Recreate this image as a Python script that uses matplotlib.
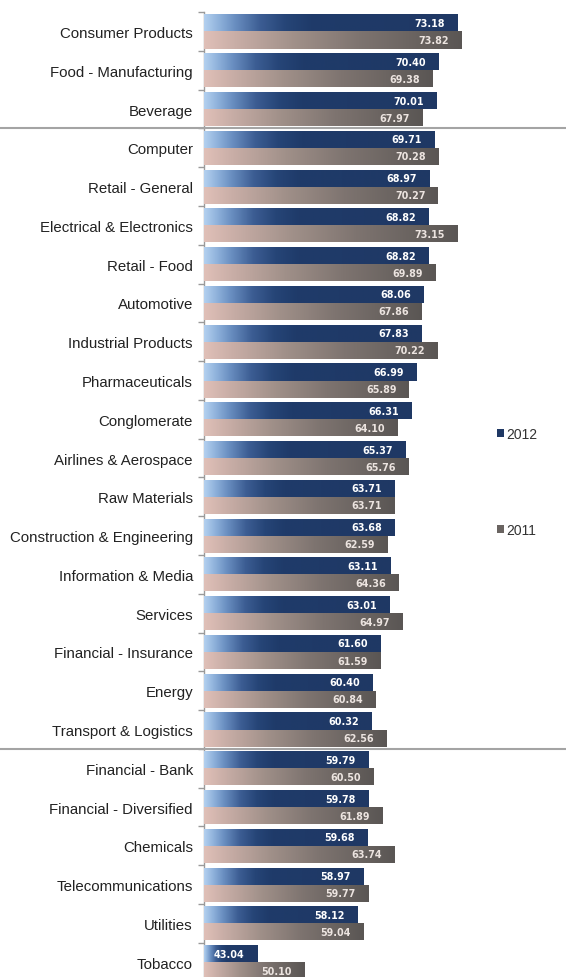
import matplotlib
matplotlib.use("Agg")
import numpy as np
import matplotlib.pyplot as plt
from matplotlib.colors import LinearSegmentedColormap
from matplotlib.transforms import blended_transform_factory
from matplotlib.lines import Line2D

categories = [
    "Consumer Products", "Food - Manufacturing", "Beverage", "Computer",
    "Retail - General", "Electrical & Electronics", "Retail - Food", "Automotive",
    "Industrial Products", "Pharmaceuticals", "Conglomerate", "Airlines & Aerospace",
    "Raw Materials", "Construction & Engineering", "Information & Media", "Services",
    "Financial - Insurance", "Energy", "Transport & Logistics", "Financial - Bank",
    "Financial - Diversified", "Chemicals", "Telecommunications", "Utilities", "Tobacco",
]
values_2012 = [73.18, 70.40, 70.01, 69.71, 68.97, 68.82, 68.82, 68.06, 67.83, 66.99,
               66.31, 65.37, 63.71, 63.68, 63.11, 63.01, 61.60, 60.40, 60.32, 59.79,
               59.78, 59.68, 58.97, 58.12, 43.04]
values_2011 = [73.82, 69.38, 67.97, 70.28, 70.27, 73.15, 69.89, 67.86, 70.22, 65.89,
               64.10, 65.76, 63.71, 62.59, 64.36, 64.97, 61.59, 60.84, 62.56, 60.50,
               61.89, 63.74, 59.77, 59.04, 50.10]
series_labels = ["2012", "2011"]
group_breaks = [2.5, 18.5]  # boundaries between the three industry groups

W, H = 566, 978
fig = plt.figure(figsize=(W / 100, H / 100), dpi=100)
fig.patch.set_facecolor("white")

row_px = 38.78
top_px = 13.1
n = len(categories)
ax_left = 204 / W
ax_w = (W - 204) / W
ax_h = n * row_px / H
ax_bottom = 1 - (top_px + n * row_px) / H
ax = fig.add_axes([ax_left, ax_bottom, ax_w, ax_h])

x0 = 35.0
x1 = x0 + (W - 204) / 6.634

cmap_2012 = LinearSegmentedColormap.from_list(
    "blue_fade",
    [(0.0, "#b3d0ef"), (0.06, "#8db0da"), (0.12, "#6a8fc1"), (0.22, "#3c5d93"),
     (0.32, "#264577"), (0.42, "#1f3b6a"), (1.0, "#1f3864")])
cmap_2011 = LinearSegmentedColormap.from_list(
    "taupe_fade",
    [(0.0, "#e0c0b8"), (0.12, "#c9aea7"), (0.35, "#a09089"), (0.6, "#7e7470"),
     (0.85, "#67615e"), (1.0, "#5a5654")])

y = np.arange(n)
bh = 0.44
bars_2012 = ax.barh(y - bh / 2, [v - x0 for v in values_2012], left=x0, height=bh,
                    color="#1f3864", label=series_labels[0], zorder=2)
bars_2011 = ax.barh(y + bh / 2, [v - x0 for v in values_2011], left=x0, height=bh,
                    color="#6a6461", label=series_labels[1], zorder=2)

grad = np.linspace(0, 1, 256).reshape(1, -1)
for bars, cmap in ((bars_2012, cmap_2012), (bars_2011, cmap_2011)):
    for patch in bars:
        bx, by = patch.get_x(), patch.get_y()
        bw, bhh = patch.get_width(), patch.get_height()
        im = ax.imshow(grad, cmap=cmap, aspect="auto",
                       extent=(bx, bx + bw, by + bhh, by), zorder=3,
                       interpolation="bilinear")
        im.set_clip_path(patch)

# value labels at the inner end of each bar
for bars, vals, col in ((bars_2012, values_2012, "white"),
                        (bars_2011, values_2011, "#ece4e0")):
    for patch, v in zip(bars, vals):
        ax.annotate(f"{v:.2f}", xy=(v, patch.get_y() + patch.get_height() / 2),
                    xytext=(-9, 0), textcoords="offset points",
                    ha="right", va="center", fontsize=6.9, fontweight="bold",
                    color=col, zorder=5, family="DejaVu Sans")

ax.set_xlim(x0, x1)
ax.set_ylim(n - 0.5, -0.5)

ax.set_yticks(y)
ax.set_yticklabels(categories, family="Liberation Sans",
                   fontsize=10.8, color="#222222")
ax.set_yticks(np.arange(n + 1) - 0.5, minor=True)
ax.tick_params(axis="y", which="major", length=0, pad=8)
ax.tick_params(axis="y", which="minor", length=4, color="#9a9a9a", width=1)
ax.set_xticks([])
for side in ("top", "right", "bottom"):
    ax.spines[side].set_visible(False)
ax.spines["left"].set_color("#9a9a9a")
ax.spines["left"].set_linewidth(1.0)

# group separators spanning the full width of the figure
tr = blended_transform_factory(fig.transFigure, ax.transData)
for yb in group_breaks:
    ax.add_line(Line2D([0, 1], [yb, yb], transform=tr, color="#a4a4a4",
                       lw=1.5, clip_on=False, zorder=6))

fig.legend(handles=[bars_2012, bars_2011], labels=series_labels,
           loc="center left", bbox_to_anchor=(0.856, 0.5066),
           frameon=False, handlelength=0.5, handleheight=0.5,
           handletextpad=0.2, labelspacing=5.9, labelcolor="#333333",
           prop={"family": "Liberation Sans", "size": 10})

fig.savefig("out.png", dpi=100, facecolor="white")
